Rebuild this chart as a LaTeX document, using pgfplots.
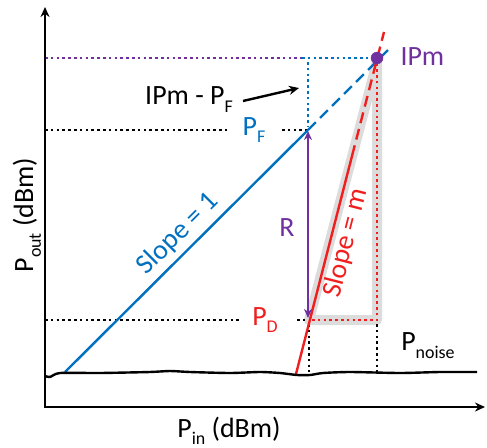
\documentclass[border=0pt]{standalone}
\usepackage{pgfplots}
\pgfplotsset{compat=1.18}
\usetikzlibrary{arrows.meta}
\usepackage{fontspec}
\setmainfont{Carlito}
\definecolor{cblue}{HTML}{0070C0}
\definecolor{cred}{RGB}{240,30,30}
\definecolor{cpurple}{HTML}{7030A0}
\definecolor{cgray}{HTML}{DCDCDC}
\newcommand{\sub}[1]{\raisebox{-0.28em}{\fontsize{18}{18}\selectfont #1}}
\begin{document}
\begin{tikzpicture}[font=\fontsize{28}{32}\selectfont]
\begin{axis}[
    name=ax,
    scale only axis, width=487bp, height=448bp,
    xmin=0, xmax=487, ymin=0, ymax=448, y dir=reverse,
    axis lines=none, clip=false,
    dots/.style={line width=2.6bp, dash pattern=on 2.6bp off 3.2bp},
  ]
% gray band round the slope triangle
\addplot[draw=cgray, line width=10bp, line join=round, line cap=round]
  coordinates {(309,320) (377,320) (377,62) (309,320)};
% black dotted guides
\addplot[dots, black] coordinates {(45,130) (228,130)};
\addplot[dots, black] coordinates {(282,130) (308,130)};
\addplot[dots, black] coordinates {(45,320) (240,320)};
\addplot[dots, black] coordinates {(297,320) (308,320)};
\addplot[dots, black] coordinates {(309,324) (309,372)};
\addplot[dots, black] coordinates {(377,324) (377,372)};
% purple / blue dotted at IPm
\addplot[dots, cpurple] coordinates {(45,58) (302,58)};
\addplot[dots, cblue] coordinates {(302,58) (374,58)};
\addplot[dots, cblue] coordinates {(308,62) (308,127)};
% red dotted triangle sides
\addplot[dots, cred] coordinates {(312,320) (377,320) (377,64)};
% slope 1 line
\addplot[cblue, line width=2.4bp] coordinates {(65,372) (308,130)};
\addplot[cblue, line width=2.4bp, dash pattern=on 11bp off 6bp] coordinates {(308,130) (392,46)};
% slope m line
\addplot[cred, line width=2.4bp] coordinates {(296,374) (352,156)};
\addplot[cred, line width=2.4bp, dash pattern=on 11bp off 6bp] coordinates {(352,156) (384,32)};
% R arrow
\addplot[cpurple, line width=2.2bp, {Stealth[length=9bp,width=8bp]}-{Stealth[length=9bp,width=8bp]}]
  coordinates {(308,131) (308,318)};
% IPm point
\addplot[only marks, mark=*, mark size=6bp, cpurple] coordinates {(377,58)};
% noise floor
\addplot[black, line width=2.4bp, smooth, tension=0.4] coordinates {
  (45,376) (50,377) (60,373) (100,373) (150,372) (170,371) (190,372)
  (230,373) (260,372) (280,373) (297,375) (310,375) (323,373)
  (350,372) (400,373) (440,372) (477,372)};
% axes
\addplot[black, line width=2.6bp, {Stealth[length=10bp,width=9bp]}-{Stealth[length=10bp,width=9bp]}]
  coordinates {(45,7) (45,407) (485,407)};
% pointer to IPm - PF
\addplot[black, line width=2.4bp, -{Stealth[length=10bp,width=9bp]}] coordinates {(243,101) (299,88)};
% labels
\node[cpurple, anchor=base west] at (axis cs:397,66) {IPm};
\node[black, anchor=base] at (axis cs:189,105) {IPm - P\sub{F}};
\node[cblue] at (axis cs:254,130) {P\sub{F}};
\node[cred] at (axis cs:265,320) {P\sub{D}};
\node[cpurple] at (axis cs:287,228) {R};
\node[cblue, rotate=45] at (axis cs:178,234) {Slope = 1};
\node[cred, rotate=75.6] at (axis cs:346,243) {Slope = m};
\node[black] at (axis cs:428,346) {P\sub{noise}};
\node[black, anchor=base, inner sep=0pt] at (axis cs:229,437) {P\sub{in} (dBm)};
\node[black, rotate=90, anchor=base] at (axis cs:33,215) {P\sub{out} (dBm)};
\end{axis}
\pgfresetboundingbox
\path (ax.south west) rectangle (ax.north east);
\end{tikzpicture}
\end{document}
